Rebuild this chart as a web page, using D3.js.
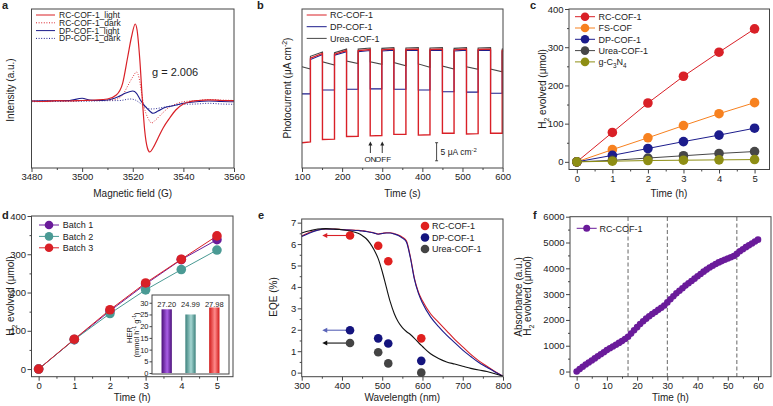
<!DOCTYPE html>
<html><head><meta charset="utf-8">
<script src="https://cdn.jsdelivr.net/npm/d3@7"></script>
<style>body{margin:0;background:#fff} svg text{font-family:Arial,"Liberation Sans",sans-serif;fill:#222}</style>
</head><body><svg id="chart" width="773" height="406"></svg>
<script>
// ---------- Panel a: EPR ----------
const aFieldRL = [3480,3485,3490,3495,3500,3505,3510,3513.5,3516,3518,3519.5,3521,3521.7,3522.8,3523.8,3524.7,3525.8,3526.7,3528,3530,3532,3534.6,3537,3540,3542.5,3546,3550,3555,3560];
const aRCLight = [0,-0.5,0.3,0,0.5,1,2,6,17.7,44,64,77,71,41,1,-29,-47,-51,-47,-37,-27,-17,-9,-3,-0.7,0.5,1.2,0.5,0.3];
const aFieldRD = [3480,3490,3500,3505,3510,3513,3516,3518,3520,3521.5,3522.5,3523.5,3524.5,3526,3527.5,3529,3531,3534,3537,3540,3545,3550,3555,3560];
const aRCDark = [0,0.3,0.5,0.5,1,1.5,6,15,24,29,23,8,-6,-17,-22,-19,-14,-7,-3,-0.7,0.3,1.5,1,0.5];
const aFieldDL = [3480,3490,3495,3500,3503,3506,3510,3514,3517,3520,3521.5,3523,3525,3527,3528,3530,3533,3536,3540,3545,3550,3555,3560];
const aDPLight = [0,0.3,0.5,2.7,1,0.5,1,4,7.7,10,7.7,1,-5.7,-10.7,-12.3,-10,-6.3,-4.7,-2.3,-0.7,0,-0.5,-0.7];
const aFieldDD = [3480,3490,3500,3510,3515,3519,3521,3523,3525,3527,3529,3532,3535,3540,3545,3550,3555,3560];
const aDPDark = [-0.7,-0.5,-0.3,0.3,0.5,2,1,-2.3,-5.7,-8,-7.7,-6.3,-5,-3.3,-3,-2.3,-3,-3.3];
const aNames = ["RC-COF-1_light","RC-COF-1_dark","DP-COF-1_light","DP-COF-1_dark"];
const aXTicks = [3480,3500,3520,3540,3560];

// ---------- Panel b: photocurrent ----------
const bEdges = [100,121,151,181,211,240,270,299,329,359,390,419,450,479,510,539,570,599,601];
const bRC = [[7.0,7.2],[30.4,31.7],[7.9,8.0],[31.5,32.5],[8.7,8.8],[32.5,32.8],[8.9,9.0],[32.7,32.9],[9.3,9.3],[32.8,32.9],[9.1,9.2],[32.8,32.9],[9.6,9.6],[32.7,32.9],[9.4,9.5],[32.8,32.9],[9.6,9.6],[32.5,32.6]];
const bDP = [[20.5,20.5],[30.0,31.4],[21.6,21.6],[31.2,32.2],[21.8,21.8],[32.2,32.5],[21.9,21.9],[32.4,32.6],[21.8,21.8],[32.5,32.6],[21.6,21.6],[32.5,32.6],[21.1,21.1],[32.4,32.6],[21.0,21.0],[32.5,32.6],[20.7,20.7],[32.2,32.3]];
const bUrea = [[28.0,27.4],[30.9,32.1],[29.4,28.5],[31.9,32.9],[29.6,28.9],[32.9,33.2],[29.4,28.7],[33.1,33.3],[29.2,28.3],[33.2,33.3],[28.8,27.9],[33.2,33.3],[28.2,27.4],[33.1,33.3],[28.0,27.3],[33.2,33.3],[27.4,26.6],[32.9,33.0]];
const bNames = ["RC-COF-1","DP-COF-1","Urea-COF-1"];
const bXTicks = [100,200,300,400,500,600];

// ---------- Panel c: H2 evolution ----------
const cTime = [0,1,2,3,4,5];
const cRC = [0,77,154,224,287,348];
const cFS = [0,32,63,95,126,155];
const cDP = [0,17,35,53,70,88];
const cUrea = [0,4,10,16,22,27];
const cGCN = [0,1.7,3.5,4.3,5.2,6];
const cNames = ["RC-COF-1","FS-COF","DP-COF-1","Urea-COF-1","g-C3N4"];

// ---------- Panel d: batches ----------
const dTime = [0,1,2,3,4,5];
const dB1 = [0,77,152,222,286,338];
const dB2 = [0,77,145,207,260,311];
const dB3 = [0,78,155,225,287,348];
const dNames = ["Batch 1","Batch 2","Batch 3"];
const dHER = [27.20,24.99,27.98];
const dHERLabels = ["27.20","24.99","27.98"];

// ---------- Panel e: EQE + absorbance ----------
const eWl = [420,490,515,597];
const eRC = [6.4,5.92,5.2,1.6];
const eDP = [1.98,1.6,1.36,0.55];
const eUrea = [1.38,0.95,0.43,0.0];
const eNames = ["RC-COF-1","DP-COF-1","Urea-COF-1"];
const eAbsWl = [300,320,340,360,380,400,420,440,450,460,470,480,490,500,510,520,530,540,550,560,570,580,590,600,620,640,660,680,700,720,740,760,780,800];
const eAbsRC = [6.38,6.55,6.66,6.70,6.70,6.68,6.66,6.64,6.62,6.60,6.56,6.52,6.47,6.50,6.53,6.53,6.48,6.42,6.32,6.15,5.4,4.4,3.75,3.35,2.75,2.35,1.95,1.55,1.2,0.85,0.55,0.3,0.05,-0.17];
const eAbsDP = [6.35,6.52,6.65,6.70,6.69,6.67,6.65,6.63,6.61,6.59,6.55,6.51,6.46,6.49,6.52,6.52,6.47,6.40,6.28,6.10,5.35,4.35,3.7,3.25,2.6,2.15,1.75,1.4,1.05,0.75,0.47,0.25,0.03,-0.17];
const eAbsUrea = [6.52,6.62,6.70,6.72,6.70,6.67,6.61,6.50,6.40,6.26,6.03,5.72,5.32,4.72,4.0,3.3,2.75,2.36,2.1,1.92,1.78,1.6,1.4,1.22,0.88,0.66,0.5,0.4,0.3,0.2,0.12,0.05,-0.05,-0.17];

// ---------- Panel f: long-term ----------
const fTime = [0,1,2,3,4,5,6,7,8,9,10,11,12,13,14,15,16,17,18,19,20,21,22,23,24,25,26,27,28,29,30,31,32,33,34,35,36,37,38,39,40,41,42,43,44,45,46,47,48,49,50,51,52,53,54,55,56,57,58,59,60];
const fH2 = [0,95,185,270,350,430,510,590,670,750,830,900,970,1040,1110,1180,1260,1350,1470,1600,1720,1840,1950,2050,2140,2230,2310,2390,2470,2560,2680,2800,2920,3030,3130,3230,3330,3420,3510,3600,3690,3780,3870,3950,4030,4100,4170,4230,4280,4330,4380,4430,4480,4560,4660,4740,4820,4890,4960,5040,5110];
const fCycles = [17,30,53];

// ---------- styling ----------
const AX = "#444", TICK = 9.5, TITLE = 10, LEG = 9;
const RED = "#d92027", NAVY = "#1c1c8c", GRAY = "#474747", ORANGE = "#f7811f", OLIVE = "#8e8e14", PURPLE = "#6a1b9a", TEAL = "#4a9a94";

const svg = d3.select("#chart");

function clean(sel){
  sel.select(".domain").remove();
  sel.attr("font-family", null).attr("font-size", null);
  sel.selectAll("line").attr("stroke", AX);
  sel.selectAll("text").attr("font-size", TICK).attr("fill", "#222");
}
function axes(x, y, o){
  const g = svg.append("g");
  const [xa, xb] = x.range(), [ya, yb] = y.range();
  if (o.xt){
    if (o.xm) g.append("g").attr("transform", `translate(0,${ya})`).call(d3.axisBottom(x).tickValues(o.xm).tickSize(2).tickFormat("")).call(clean);
    g.append("g").attr("transform", `translate(0,${ya})`).call(d3.axisBottom(x).tickValues(o.xt).tickSize(4).tickPadding(1.5).tickFormat(d => d)).call(clean);
  }
  if (o.yt){
    if (o.ym) g.append("g").attr("transform", `translate(${xa},0)`).call(d3.axisLeft(y).tickValues(o.ym).tickSize(2).tickFormat("")).call(clean);
    g.append("g").attr("transform", `translate(${xa},0)`).call(d3.axisLeft(y).tickValues(o.yt).tickSize(4).tickPadding(1.5).tickFormat(d => d)).call(clean);
  }
  g.append("rect").attr("x", xa).attr("y", yb).attr("width", xb - xa).attr("height", ya - yb)
    .attr("fill", "none").attr("stroke", AX).attr("stroke-width", 1);
  return g;
}
function rich(parent, x, y, parts, size, anchor, rot){
  const t = parent.append("text").attr("font-size", size).attr("text-anchor", anchor || "start");
  if (rot) t.attr("transform", `translate(${x},${y}) rotate(${rot})`); else t.attr("x", x).attr("y", y);
  let shift = 0;
  parts.forEach(p => {
    const s = typeof p === "string" ? p : p[0], k = typeof p === "string" ? null : p[1];
    const target = k === "sup" ? -0.4 * size : k === "sub" ? 0.28 * size : 0;
    const ts = t.append("tspan").text(s);
    if (target - shift !== 0) ts.attr("dy", target - shift);
    if (k) ts.attr("font-size", size * 0.7);
    shift = target;
  });
  return t;
}
function letter(x, y, s){ svg.append("text").attr("x", x).attr("y", y).attr("font-size", 11).attr("font-weight", "bold").text(s); }
function zip(xs, ys){ return xs.map((v, i) => [v, ys[i]]); }

// ================= a =================
{
  const x = d3.scaleLinear().domain([3480, 3560]).range([31.5, 234]);
  const y = d3.scaleLinear().domain([-67, 92]).range([168, 9]);
  const line = d3.line().x(d => x(d[0])).y(d => y(d[1])).curve(d3.curveMonotoneX);
  const series = [
    {f: aFieldDD, v: aDPDark, c: NAVY, dash: "1,1.6", w: 0.9},
    {f: aFieldRD, v: aRCDark, c: RED, dash: "1,1.6", w: 0.9},
    {f: aFieldDL, v: aDPLight, c: NAVY, dash: null, w: 1.1},
    {f: aFieldRL, v: aRCLight, c: RED, dash: null, w: 1.2}
  ];
  series.forEach(s => svg.append("path").attr("d", line(zip(s.f, s.v))).attr("fill", "none")
    .attr("stroke", s.c).attr("stroke-width", s.w).attr("stroke-dasharray", s.dash));
  axes(x, y, {xt: aXTicks, xm: [3490,3510,3530,3550]});
  const leg = [{c: RED, d: null}, {c: RED, d: "1,1.6"}, {c: NAVY, d: null}, {c: NAVY, d: "1,1.6"}];
  aNames.forEach((n, i) => {
    const yy = 15 + i * 7.8;
    svg.append("line").attr("x1", 36).attr("x2", 55).attr("y1", yy).attr("y2", yy).attr("stroke", leg[i].c).attr("stroke-width", 1).attr("stroke-dasharray", leg[i].d);
    svg.append("text").attr("x", 59).attr("y", yy + 3).attr("font-size", 8.5).text(n);
  });
  svg.append("text").attr("x", 152).attr("y", 76).attr("font-size", 11).text("g = 2.006");
  svg.append("text").attr("x", 132.7).attr("y", 197).attr("font-size", TITLE).attr("text-anchor", "middle").text("Magnetic field (G)");
  svg.append("text").attr("transform", "translate(14,90) rotate(-90)").attr("font-size", TITLE).attr("text-anchor", "middle").text("Intensity (a.u.)");
  letter(2, 9, "a");
}

// ================= b =================
{
  const x = d3.scaleLinear().domain([100, 601]).range([302, 503]);
  const y = d3.scaleLinear().domain([0, 44]).range([168, 9]);
  const line = d3.line().x(d => x(d[0])).y(d => y(d[1]));
  function pts(levels){
    const out = [];
    levels.forEach((lv, i) => { out.push([bEdges[i], lv[0]]); out.push([bEdges[i + 1], lv[1]]); });
    return out;
  }
  [[bDP, NAVY, 1.1], [bUrea, GRAY, 1.1], [bRC, RED, 1.4]].forEach(([lv, c, w]) =>
    svg.append("path").attr("d", line(pts(lv))).attr("fill", "none").attr("stroke", c).attr("stroke-width", w));
  axes(x, y, {xt: bXTicks, xm: [150,250,350,450,550]});
  [RED, NAVY, GRAY].forEach((c, i) => {
    const yy = 15 + i * 11.7;
    svg.append("line").attr("x1", 306.7).attr("x2", 326.7).attr("y1", yy).attr("y2", yy).attr("stroke", c).attr("stroke-width", 1);
    svg.append("text").attr("x", 330).attr("y", yy + 3.2).attr("font-size", LEG).text(bNames[i]);
  });
  // scale bar 5 µA
  const sbx = x(435.5);
  svg.append("line").attr("x1", sbx).attr("x2", sbx).attr("y1", y(7)).attr("y2", y(2)).attr("stroke", "#333").attr("stroke-width", 0.9);
  [7, 2].forEach(v => svg.append("line").attr("x1", sbx - 1.5).attr("x2", sbx + 1.5).attr("y1", y(v)).attr("y2", y(v)).attr("stroke", "#333").attr("stroke-width", 0.9));
  rich(svg, sbx + 4, 155, ["5 μA cm", ["-2", "sup"]], 8.5, "start");
  // ON / OFF arrows
  [270.5, 300].forEach(t => {
    const ax = x(t);
    svg.append("line").attr("x1", ax).attr("x2", ax).attr("y1", 153).attr("y2", 144).attr("stroke", "#222").attr("stroke-width", 0.9);
    svg.append("path").attr("d", `M${ax - 2},${145.5} L${ax},${141.5} L${ax + 2},${145.5} Z`).attr("fill", "#222");
  });
  svg.append("text").attr("x", x(270.5)).attr("y", 162).attr("font-size", 8).attr("text-anchor", "middle").text("ON");
  svg.append("text").attr("x", x(302)).attr("y", 162).attr("font-size", 8).attr("text-anchor", "middle").text("OFF");
  svg.append("text").attr("x", 402.5).attr("y", 197).attr("font-size", TITLE).attr("text-anchor", "middle").text("Time (s)");
  rich(svg, 291, 88, ["Photocurrent (μA cm", ["-2", "sup"], ")"], TITLE, "middle", -90);
  letter(257, 9, "b");
}

// ================= c =================
{
  const x = d3.scaleLinear().domain([-0.22, 5.42]).range([569, 769.5]);
  const y = d3.scaleLinear().domain([-20, 400]).range([169.5, 9]);
  const line = d3.line().x(d => x(d[0])).y(d => y(d[1]));
  const ser = [[cRC, RED], [cFS, ORANGE], [cDP, NAVY], [cUrea, GRAY], [cGCN, OLIVE]];
  ser.forEach(([v, c]) => {
    svg.append("path").attr("d", line(zip(cTime, v))).attr("fill", "none").attr("stroke", c).attr("stroke-width", 1);
    svg.append("g").selectAll("circle").data(zip(cTime, v)).join("circle")
      .attr("cx", d => x(d[0])).attr("cy", d => y(d[1])).attr("r", 4.8).attr("fill", c);
  });
  axes(x, y, {xt: [0,1,2,3,4,5], xm: [0.5,1.5,2.5,3.5,4.5], yt: [0,100,200,300,400], ym: [50,150,250,350]});
  ser.forEach(([v, c], i) => {
    const yy = 16.7 + i * 11.3;
    svg.append("line").attr("x1", 575).attr("x2", 595).attr("y1", yy).attr("y2", yy).attr("stroke", c).attr("stroke-width", 1);
    svg.append("circle").attr("cx", 585).attr("cy", yy).attr("r", 4.3).attr("fill", c);
    if (i === 4) rich(svg, 598.5, yy + 3.2, ["g-C", ["3", "sub"], "N", ["4", "sub"]], LEG, "start");
    else svg.append("text").attr("x", 598.5).attr("y", yy + 3.2).attr("font-size", LEG).text(cNames[i]);
  });
  svg.append("text").attr("x", 669).attr("y", 197).attr("font-size", TITLE).attr("text-anchor", "middle").text("Time (h)");
  rich(svg, 546, 89, ["H", ["2", "sub"], " evolved (μmol)"], TITLE, "middle", -90);
  letter(530, 9, "c");
}

// ================= d =================
{
  const x = d3.scaleLinear().domain([-0.2, 5.45]).range([31.5, 233]);
  const y = d3.scaleLinear().domain([-20, 400]).range([376.7, 216]);
  const line = d3.line().x(d => x(d[0])).y(d => y(d[1]));
  const ser = [[dB1, PURPLE], [dB2, TEAL], [dB3, RED]];
  ser.forEach(([v, c]) => {
    svg.append("path").attr("d", line(zip(dTime, v))).attr("fill", "none").attr("stroke", c).attr("stroke-width", 1);
    svg.append("g").selectAll("circle").data(zip(dTime, v)).join("circle")
      .attr("cx", d => x(d[0])).attr("cy", d => y(d[1])).attr("r", 4.8).attr("fill", c);
  });
  axes(x, y, {xt: [0,1,2,3,4,5], xm: [0.5,1.5,2.5,3.5,4.5], yt: [0,100,200,300,400], ym: [50,150,250,350]});
  ser.forEach(([v, c], i) => {
    const yy = 225 + i * 11.4;
    svg.append("line").attr("x1", 39).attr("x2", 59).attr("y1", yy).attr("y2", yy).attr("stroke", c).attr("stroke-width", 1);
    svg.append("circle").attr("cx", 49).attr("cy", yy).attr("r", 4.3).attr("fill", c);
    svg.append("text").attr("x", 62.7).attr("y", yy + 3.2).attr("font-size", LEG).text(dNames[i]);
  });
  // inset
  const defs = svg.append("defs");
  const grads = [["gP", "#4a0f78", "#a95ee6"], ["gT", "#3c817c", "#a6d6d2"], ["gR", "#d01a1a", "#ff8a8a"]];
  grads.forEach(([id, dk, lt]) => {
    const lg = defs.append("linearGradient").attr("id", id).attr("x1", 0).attr("x2", 1).attr("y1", 0).attr("y2", 0);
    lg.append("stop").attr("offset", 0).attr("stop-color", dk);
    lg.append("stop").attr("offset", 0.55).attr("stop-color", lt);
    lg.append("stop").attr("offset", 1).attr("stop-color", dk);
  });
  svg.append("rect").attr("x", 152).attr("y", 295).attr("width", 77).attr("height", 79).attr("fill", "#fff");
  const bx = d3.scaleBand().domain(dNames).range([152, 229]).paddingInner(0.567).paddingOuter(0.4);
  const by = d3.scaleLinear().domain([-0.4, 33.3]).range([374, 295]);
  svg.append("g").selectAll("rect").data(dHER).join("rect")
    .attr("x", (d, i) => bx(dNames[i])).attr("width", bx.bandwidth())
    .attr("y", d => by(d)).attr("height", d => by(0) - by(d))
    .attr("fill", (d, i) => `url(#${grads[i][0]})`);
  svg.append("g").selectAll("text").data(dHERLabels).join("text")
    .attr("x", (d, i) => bx(dNames[i]) + bx.bandwidth() / 2).attr("y", 306.5)
    .attr("text-anchor", "middle").attr("font-size", 7.5).text(d => d);
  const ig = svg.append("g").attr("transform", "translate(152,0)")
    .call(d3.axisLeft(by).tickValues([0,5,10,15,20,25,30]).tickSize(2.5).tickPadding(1).tickFormat(d => d)).call(clean);
  ig.selectAll("text").attr("font-size", 7.5);
  svg.append("rect").attr("x", 152).attr("y", 295).attr("width", 77).attr("height", 79).attr("fill", "none").attr("stroke", AX);
  svg.append("text").attr("transform", "translate(131.5,335) rotate(-90)").attr("font-size", 7.5).attr("text-anchor", "middle").text("HER");
  rich(svg, 138.5, 335, ["(mmol h", ["-1", "sup"], " g", ["-1", "sup"], ")"], 7.5, "middle", -90);
  svg.append("text").attr("x", 132.2).attr("y", 401).attr("font-size", TITLE).attr("text-anchor", "middle").text("Time (h)");
  rich(svg, 14, 296, ["H", ["2", "sub"], " evolved (μmol)"], TITLE, "middle", -90);
  letter(2, 219, "d");
}

// ================= e =================
{
  const x = d3.scaleLinear().domain([300, 800]).range([301.7, 503]);
  const y = d3.scaleLinear().domain([-0.19, 7.17]).range([376.7, 219]);
  const y2 = d3.scaleLinear().domain([-0.19, 7.17]).range([376.7, 219]);
  const aline = d3.line().x(d => x(d[0])).y(d => y2(d[1])).curve(d3.curveMonotoneX);
  [[eAbsRC, RED], [eAbsDP, NAVY], [eAbsUrea, "#111"]].forEach(([v, c]) =>
    svg.append("path").attr("d", aline(zip(eAbsWl, v))).attr("fill", "none").attr("stroke", c).attr("stroke-width", 1.1));
  // arrows
  [[6.4, RED], [1.98, "#5a64b8"], [1.38, "#111"]].forEach(([v, c]) => {
    const yy = y(v), x1 = x(410), x0 = x(351);
    svg.append("line").attr("x1", x0 + 3).attr("x2", x1).attr("y1", yy).attr("y2", yy).attr("stroke", c).attr("stroke-width", 1.1);
    svg.append("path").attr("d", `M${x0},${yy} L${x0 + 5},${yy - 2.5} L${x0 + 5},${yy + 2.5} Z`).attr("fill", c);
  });
  [[eRC, "#e0201f"], [eDP, "#14147e"], [eUrea, "#444"]].forEach(([v, c]) =>
    svg.append("g").selectAll("circle").data(zip(eWl, v)).join("circle")
      .attr("cx", d => x(d[0])).attr("cy", d => y(d[1])).attr("r", 4.3).attr("fill", c));
  axes(x, y, {xt: [300,400,500,600,700,800], xm: [350,450,550,650,750], yt: [0,1,2,3,4,5,6,7], ym: [0.5,1.5,2.5,3.5,4.5,5.5,6.5]});
  ["#e0201f", "#14147e", "#444"].forEach((c, i) => {
    const yy = 226 + i * 11.5;
    svg.append("circle").attr("cx", 425).attr("cy", yy).attr("r", 4.3).attr("fill", c);
    svg.append("text").attr("x", 432).attr("y", yy + 3.2).attr("font-size", LEG).text(eNames[i]);
  });
  svg.append("text").attr("x", 402.3).attr("y", 401).attr("font-size", TITLE).attr("text-anchor", "middle").text("Wavelength (nm)");
  svg.append("text").attr("transform", "translate(277,297) rotate(-90)").attr("font-size", TITLE).attr("text-anchor", "middle").text("EQE (%)");
  svg.append("text").attr("transform", "translate(521.5,297) rotate(-90)").attr("font-size", TITLE).attr("text-anchor", "middle").text("Absorbance (a.u.)");
  letter(258, 219, "e");
}

// ================= f =================
{
  const x = d3.scaleLinear().domain([-2.2, 64.3]).range([570, 771]);
  const y = d3.scaleLinear().domain([-200, 6000]).range([376.7, 216.7]);
  const line = d3.line().x(d => x(d[0])).y(d => y(d[1]));
  fCycles.forEach(t => svg.append("line").attr("x1", x(t)).attr("x2", x(t)).attr("y1", 217).attr("y2", 376.7)
    .attr("stroke", "#666").attr("stroke-width", 1).attr("stroke-dasharray", "4,2.5"));
  svg.append("path").attr("d", line(zip(fTime, fH2))).attr("fill", "none").attr("stroke", PURPLE).attr("stroke-width", 1);
  svg.append("g").selectAll("circle").data(zip(fTime, fH2)).join("circle")
    .attr("cx", d => x(d[0])).attr("cy", d => y(d[1])).attr("r", 3.3).attr("fill", PURPLE);
  axes(x, y, {xt: [0,10,20,30,40,50,60], xm: [5,15,25,35,45,55], yt: [0,1000,2000,3000,4000,5000,6000], ym: [500,1500,2500,3500,4500,5500]});
  svg.append("line").attr("x1", 576.7).attr("x2", 596.7).attr("y1", 228.3).attr("y2", 228.3).attr("stroke", PURPLE).attr("stroke-width", 1);
  svg.append("circle").attr("cx", 586.7).attr("cy", 228.3).attr("r", 3.5).attr("fill", PURPLE);
  svg.append("text").attr("x", 599.5).attr("y", 231.5).attr("font-size", LEG).text("RC-COF-1");
  svg.append("text").attr("x", 670.5).attr("y", 401).attr("font-size", TITLE).attr("text-anchor", "middle").text("Time (h)");
  rich(svg, 531, 296, ["H", ["2", "sub"], " evolved (μmol)"], TITLE, "middle", -90);
  letter(533, 219, "f");
}
</script>
</body></html>
